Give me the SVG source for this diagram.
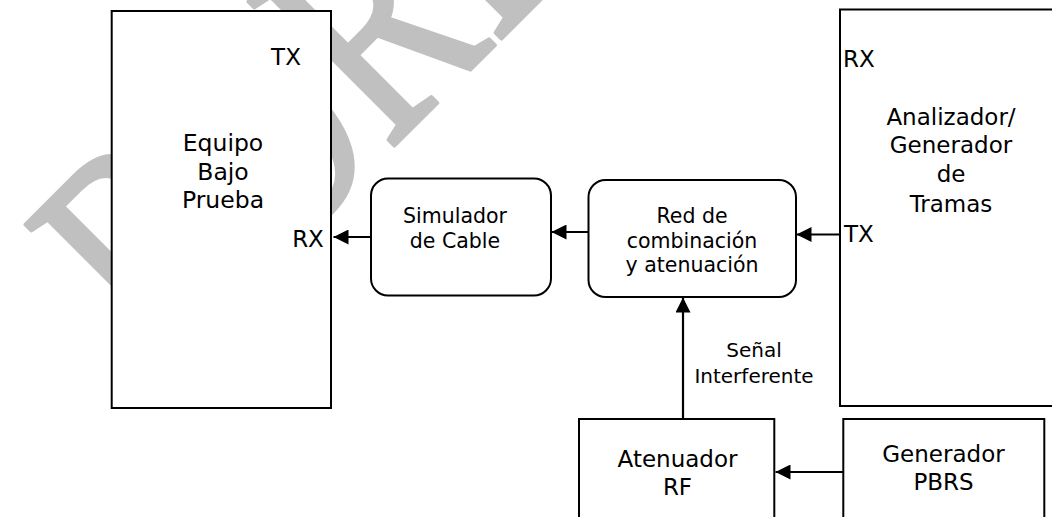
<svg xmlns="http://www.w3.org/2000/svg" width="1052" height="517" viewBox="0 0 1052 517">
<style>
.box{fill:#fff;stroke:#000;stroke-width:2}
.t{font-family:"DejaVu Sans",sans-serif;fill:#000}
.m{text-anchor:middle}
.c{stroke:#000;stroke-width:2.2;fill:none}
.wm{font-family:"Liberation Serif",serif;fill:#c0c0c0;stroke:#c0c0c0;stroke-width:4;stroke-linejoin:round}
</style>
<defs>
<marker id="ah" markerUnits="userSpaceOnUse" markerWidth="15" markerHeight="15" refX="15" refY="7.5" orient="auto">
<path d="M0,0 L15,7.5 L0,15 z" fill="#000"/>
</marker>
</defs>
<rect width="1052" height="517" fill="#fff"/>
<text class="wm" font-size="313" transform="translate(165.5,374.5) rotate(-45) scale(0.725,1)">BORRADOR</text>

<g id="equipo">
<rect class="box" x="111.7" y="11" width="219.3" height="397"/>
<text class="t" font-size="23" x="286" y="65" text-anchor="middle">TX</text>
<text class="t m" font-size="23.5" x="223" y="151">Equipo</text>
<text class="t m" font-size="23.5" x="223" y="179.5">Bajo</text>
<text class="t m" font-size="23.5" x="223" y="208">Prueba</text>
<text class="t" font-size="23" x="308" y="247" text-anchor="middle">RX</text>
</g>

<g id="simulador">
<rect class="box" x="371" y="178.5" width="180" height="117" rx="17"/>
<text class="t m" font-size="20.5" x="455" y="222.7">Simulador</text>
<text class="t m" font-size="20.5" x="455" y="248.3">de Cable</text>
</g>

<g id="red">
<rect class="box" x="588.5" y="180" width="207.5" height="117" rx="17"/>
<text class="t m" font-size="20.5" x="692" y="222.7">Red de</text>
<text class="t m" font-size="20.5" x="692" y="247.5">combinación</text>
<text class="t m" font-size="20.5" x="692" y="272">y atenuación</text>
</g>

<g id="analizador">
<rect class="box" x="840" y="9.5" width="230" height="396.5"/>
<text class="t" font-size="23" x="843" y="66.7">RX</text>
<text class="t m" font-size="23" x="951" y="125">Analizador/</text>
<text class="t m" font-size="23" x="951" y="153">Generador</text>
<text class="t m" font-size="23" x="951" y="181.7">de</text>
<text class="t m" font-size="23" x="951" y="211.7">Tramas</text>
<text class="t" font-size="23" x="844" y="241.7">TX</text>
</g>

<g id="atenuador">
<rect class="box" x="579" y="419" width="195.3" height="110"/>
<text class="t m" font-size="23" x="677.5" y="466.7">Atenuador</text>
<text class="t m" font-size="23" x="677.5" y="495">RF</text>
</g>

<g id="generador">
<rect class="box" x="843.3" y="419" width="201" height="110"/>
<text class="t m" font-size="23" x="943.5" y="461.7">Generador</text>
<text class="t m" font-size="23" x="943.5" y="490">PBRS</text>
</g>

<g id="connectors">
<line class="c" x1="371" y1="237" x2="333.5" y2="237" marker-end="url(#ah)"/>
<line class="c" x1="588.5" y1="232" x2="551.5" y2="232" marker-end="url(#ah)"/>
<line class="c" x1="840" y1="234.5" x2="796.5" y2="234.5" marker-end="url(#ah)"/>
<line class="c" x1="683" y1="419" x2="683" y2="297.5" marker-end="url(#ah)"/>
<line class="c" x1="843.3" y1="472" x2="775.5" y2="472" marker-end="url(#ah)"/>
<text class="t m" font-size="20" x="754" y="356.7">Señal</text>
<text class="t m" font-size="20" x="754" y="383.3">Interferente</text>
</g>
</svg>
